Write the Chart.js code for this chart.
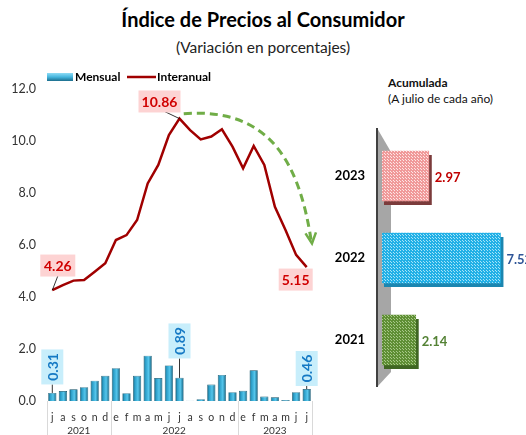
<!DOCTYPE html>
<html>
<head>
<meta charset="utf-8">
<script src="https://cdn.jsdelivr.net/npm/chart.js@4.4.0/dist/chart.umd.min.js"></script>
<style>
  body { margin:0; width:526px; height:435px; position:relative; background:#fff; overflow:hidden; font-family:Lato, sans-serif; }
  #t1 { position:absolute; left:0; top:6px; width:526px; text-align:center; font-weight:bold; font-size:20px; line-height:26px; color:#000; }
  #t2 { position:absolute; left:0; top:37px; width:526px; text-align:center; font-size:15.5px; line-height:20px; color:#222; }
  #acu { position:absolute; left:388px; top:75px; font-size:12px; line-height:16px; color:#111; }
  #cLeft { position:absolute; left:0; top:60px; }
  #cRight { position:absolute; left:330px; top:60px; }
</style>
</head>
<body>
<div id="t1">Índice de Precios al Consumidor</div>
<div id="t2">(Variación en porcentajes)</div>
<div id="acu"><b>Acumulada</b><br>(A julio de cada año)</div>
<canvas id="cLeft" width="330" height="375"></canvas>
<canvas id="cRight" width="196" height="375"></canvas>
<script>
const F = 'Lato, sans-serif';

// meses jul-2021 .. jul-2023
const months = ["j","a","s","o","n","d","e","f","m","a","m","j","j","a","s","o","n","d","e","f","m","a","m","j","j"];
const years = ["2021", "2022", "2023"];
const yearSpans = [6, 12, 7];
const mensual = [0.31, 0.38, 0.45, 0.53, 0.78, 0.97, 1.26, 0.30, 0.97, 1.74, 0.88, 1.37, 0.89, 0.01, 0.07, 0.63, 1.00, 0.34, 0.39, 1.18, 0.17, 0.14, 0.04, 0.34, 0.46];
const interanual = [4.26, 4.46, 4.63, 4.65, 4.97, 5.30, 6.19, 6.38, 6.96, 8.37, 9.08, 10.23, 10.86, 10.42, 10.06, 10.17, 10.45, 9.78, 8.95, 9.81, 9.08, 7.47, 6.58, 5.62, 5.15];
const yTicks = [0, 2, 4, 6, 8, 10, 12];

const acumYears = ["2023", "2022", "2021"];
const acumulada = [2.97, 7.52, 2.14];

// label callouts (index + where the box sits, in axis value)
const barNotes = [{ i: 0, at: 1.31 }, { i: 12, at: 2.31 }, { i: 24, at: 1.25 }];
const lineNotes = [
  { i: 0, at: 5.21, dx: 5.5, w: 35, lead: true },
  { i: 12, at: 11.52, dx: -20, w: 42, lead: true },
  { i: 24, at: 4.67, dx: -11, w: 34, lead: false },
];

function barGrad(c) {
  const ch = c.chart, xs = ch.scales.x;
  if (c.type !== "data" || !xs || !ch.chartArea) return "#3cb0d8";
  const x = xs.getPixelForValue(c.dataIndex);
  const g = ch.ctx.createLinearGradient(x - 4.2, 0, x + 4.2, 0);
  g.addColorStop(0, "#0f4f66");
  g.addColorStop(0.22, "#2a9cc6");
  g.addColorStop(0.6, "#55c6ec");
  g.addColorStop(1, "#155f7c");
  return g;
}

function box(ctx, text, cx, cy, w, h, bg, fg, rot) {
  ctx.save();
  ctx.translate(cx, cy);
  if (rot) ctx.rotate(rot);
  ctx.fillStyle = bg;
  ctx.fillRect(-w / 2, -h / 2, w, h);
  ctx.fillStyle = fg;
  ctx.font = "bold 14px " + F;
  ctx.textAlign = "center";
  ctx.textBaseline = "middle";
  ctx.fillText(text, 0, 1);
  ctx.restore();
}

const leftDeco = {
  id: "leftDeco",
  afterDraw(chart) {
    const ctx = chart.ctx, xs = chart.scales.x, ys = chart.scales.y, ca = chart.chartArea;
    const step = xs.getPixelForValue(1) - xs.getPixelForValue(0);

    // year row + separators
    ctx.save();
    ctx.strokeStyle = "#d9d9d9";
    ctx.lineWidth = 1;
    ctx.fillStyle = "#333";
    ctx.font = "10px " + F;
    ctx.textAlign = "center";
    ctx.textBaseline = "middle";
    let start = 0;
    const edges = [xs.getPixelForValue(0) - step / 2];
    years.forEach((y, k) => {
      const end = start + yearSpans[k] - 1;
      const x0 = xs.getPixelForValue(start) - step / 2;
      const x1 = xs.getPixelForValue(end) + step / 2;
      edges.push(x1);
      ctx.fillText(y, (x0 + x1) / 2, ca.bottom + 30);
      start = end + 1;
    });
    edges.forEach(x => {
      ctx.beginPath();
      ctx.moveTo(Math.round(x) + 0.5, ca.bottom);
      ctx.lineTo(Math.round(x) + 0.5, chart.height);
      ctx.stroke();
    });
    ctx.restore();

    // legend
    ctx.save();
    const lg = ctx.createLinearGradient(0, 13, 0, 21);
    lg.addColorStop(0, "#8fdcf5");
    lg.addColorStop(0.5, "#45b6de");
    lg.addColorStop(1, "#1c6d8c");
    ctx.fillStyle = lg;
    ctx.fillRect(47, 13, 26, 8);
    ctx.fillStyle = "#000";
    ctx.font = "bold 12px " + F;
    ctx.textBaseline = "middle";
    ctx.fillText("Mensual", 75, 17);
    ctx.strokeStyle = "#a00000";
    ctx.lineWidth = 2.5;
    ctx.beginPath();
    ctx.moveTo(127, 17);
    ctx.lineTo(156, 17);
    ctx.stroke();
    ctx.fillText("Interanual", 157, 17);
    ctx.restore();

    // monthly callouts (rotated)
    ctx.save();
    ctx.strokeStyle = "#000";
    ctx.lineWidth = 0.8;
    barNotes.forEach(n => {
      const x = xs.getPixelForValue(n.i);
      const cy = ys.getPixelForValue(n.at);
      const top = ys.getPixelForValue(mensual[n.i]);
      if (top - (cy + 17.5) > 1) {
        ctx.beginPath();
        ctx.moveTo(x, cy + 17.5);
        ctx.lineTo(x, top);
        ctx.stroke();
      }
      box(ctx, mensual[n.i].toFixed(2), x, cy, 35, 22, "#c8eefb", "#1579c4", -Math.PI / 2);
    });

    // year-on-year callouts
    lineNotes.forEach(n => {
      const px = xs.getPixelForValue(n.i), py = ys.getPixelForValue(interanual[n.i]);
      const cx = px + n.dx, cy = ys.getPixelForValue(n.at);
      if (n.lead) {
        ctx.beginPath();
        if (n.dx > 0) { ctx.moveTo(cx, cy + 10.5); } else { ctx.moveTo(cx + 5, cy + 10); }
        ctx.lineTo(px, py);
        ctx.stroke();
      }
      box(ctx, interanual[n.i].toFixed(2), cx, cy, n.w, 22, "#fdd3d3", "#d00000", 0);
    });
    ctx.restore();

    // green dashed trend arrow
    const p0 = [xs.getPixelForValue(12.4), ys.getPixelForValue(11.05)];
    const p1 = [xs.getPixelForValue(20.5), ys.getPixelForValue(11.3)];
    const p2 = [xs.getPixelForValue(23.3), ys.getPixelForValue(9.2)];
    const p3 = [xs.getPixelForValue(24.45), ys.getPixelForValue(6.1)];
    ctx.save();
    ctx.strokeStyle = "#70ad47";
    ctx.lineWidth = 3;
    ctx.setLineDash([8, 5]);
    ctx.beginPath();
    ctx.moveTo(p0[0], p0[1]);
    ctx.bezierCurveTo(p1[0], p1[1], p2[0], p2[1], p3[0], p3[1]);
    ctx.stroke();
    ctx.setLineDash([]);
    ctx.lineWidth = 2.5;
    ctx.beginPath();
    ctx.moveTo(p3[0] - 6, p3[1] - 9);
    ctx.lineTo(p3[0] + 0.5, p3[1] + 1);
    ctx.lineTo(p3[0] + 4.5, p3[1] - 10);
    ctx.stroke();
    ctx.restore();
  }
};

new Chart(document.getElementById("cLeft"), {
  type: "bar",
  data: {
    labels: months,
    datasets: [
      {
        type: "line",
        label: "Interanual",
        data: interanual,
        borderColor: "#a00000",
        borderWidth: 2.5,
        pointRadius: 0,
        tension: 0,
        order: 0,
      },
      {
        type: "bar",
        label: "Mensual",
        data: mensual,
        backgroundColor: barGrad,
        borderColor: "#0f4f66",
        borderWidth: 0.6,
        barPercentage: 0.78,
        categoryPercentage: 1,
        order: 1,
      },
    ],
  },
  options: {
    responsive: false,
    animation: false,
    layout: { padding: { top: 29, right: 18, left: 0, bottom: 0 } },
    plugins: { legend: { display: false }, tooltip: { enabled: false } },
    scales: {
      x: {
        offset: true,
        grid: { display: false, drawTicks: false },
        border: { display: false },
        ticks: { autoSkip: false, maxRotation: 0, padding: 10, color: "#333", font: { size: 10.5, family: F } },
        afterFit(s) { s.height = 34; },
      },
      y: {
        min: 0,
        max: 12,
        afterBuildTicks(s) { s.ticks = yTicks.map(v => ({ value: v })); },
        grid: { display: false, drawTicks: false },
        border: { display: false },
        ticks: { padding: 11, color: "#333", font: { size: 12.5, family: F }, callback: v => v.toFixed(1) },
        afterFit(s) { s.width = 47; },
      },
    },
  },
  plugins: [leftDeco],
});

// ---- right chart: accumulated ----
function pat(base, dot) {
  const c = document.createElement("canvas");
  c.width = 3; c.height = 3;
  const g = c.getContext("2d");
  g.fillStyle = base;
  g.fillRect(0, 0, 3, 3);
  g.fillStyle = dot;
  g.fillRect(0, 0, 1, 1);
  g.fillRect(1, 1, 1, 1);
  return g.createPattern(c, "repeat");
}

const fills = [pat("#f09a9a", "#fde6e6"), pat("#22b0e6", "#a8e4f8"), pat("#5f8f35", "#a9c98a")];
const shades = ["#7b3b3b", "#1b86b0", "#3f6623"];
const valColors = ["#c00000", "#2f5597", "#548235"];

const rightDeco = {
  id: "rightDeco",
  beforeDatasetsDraw(chart) {
    const ctx = chart.ctx, ca = chart.chartArea;
    ctx.save();
    // 3d wall
    ctx.fillStyle = "#a6a6a6";
    ctx.beginPath();
    ctx.moveTo(ca.left - 5, ca.top - 7);
    ctx.lineTo(ca.left + 9, ca.top + 17);
    ctx.lineTo(ca.left + 9, ca.bottom - 9);
    ctx.lineTo(ca.left - 5, ca.bottom + 6);
    ctx.closePath();
    ctx.fill();
    ctx.strokeStyle = "#404040";
    ctx.lineWidth = 2;
    ctx.beginPath();
    ctx.moveTo(ca.left - 5, ca.top - 7);
    ctx.lineTo(ca.left - 5, ca.bottom + 6);
    ctx.stroke();
    // bar depth
    chart.getDatasetMeta(0).data.forEach((el, i) => {
      ctx.fillStyle = shades[i];
      ctx.fillRect(el.base + 2, el.y - el.height / 2 + 4, el.x - el.base + 1, el.height);
    });
    ctx.restore();
  },
  afterDatasetsDraw(chart) {
    const ctx = chart.ctx;
    ctx.save();
    ctx.font = "bold 13px " + F;
    ctx.textBaseline = "middle";
    chart.getDatasetMeta(0).data.forEach((el, i) => {
      ctx.fillStyle = valColors[i];
      ctx.fillText(acumulada[i].toFixed(2), el.x + 6, el.y + 2);
    });
    ctx.restore();
  }
};

new Chart(document.getElementById("cRight"), {
  type: "bar",
  data: {
    labels: acumYears,
    datasets: [{ data: acumulada, backgroundColor: fills, borderWidth: 0, barThickness: 50 }],
  },
  options: {
    indexAxis: "y",
    responsive: false,
    animation: false,
    layout: { padding: { top: 75, bottom: 54, right: 18, left: 0 } },
    plugins: { legend: { display: false }, tooltip: { enabled: false } },
    scales: {
      x: { display: false, min: 0, max: 8 },
      y: {
        grid: { display: false, drawTicks: false },
        border: { display: false },
        ticks: { padding: 17, color: "#000", font: { size: 13, weight: "bold", family: F } },
        afterFit(s) { s.width = 52; },
      },
    },
  },
  plugins: [rightDeco],
});
</script>
</body>
</html>
